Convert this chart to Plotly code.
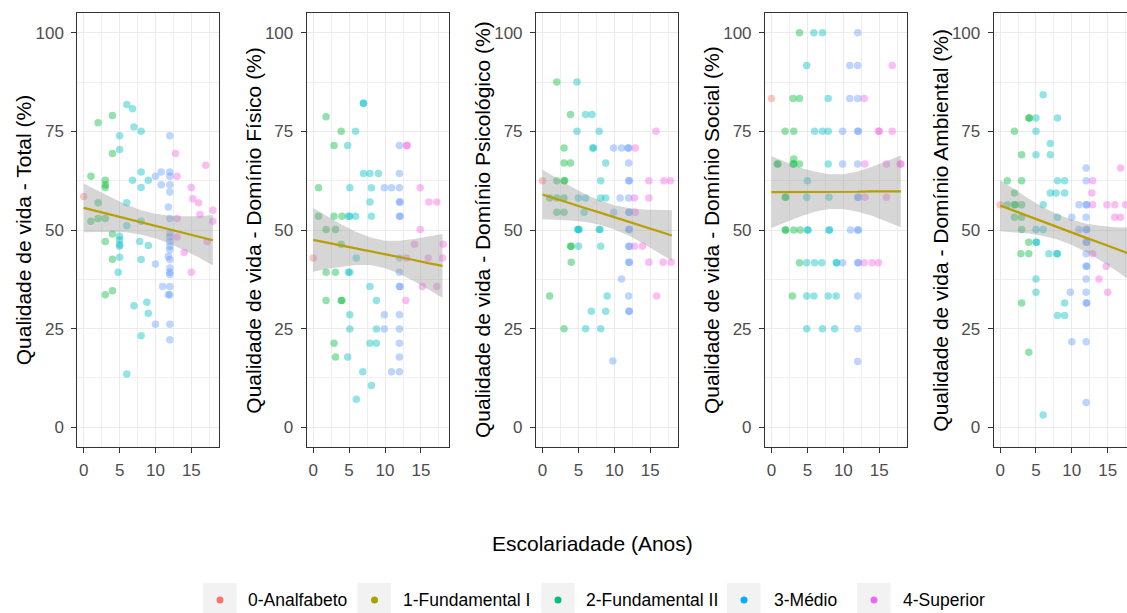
import plotly.graph_objects as go

W, H = 1127, 613
FONT = "Arial, Liberation Sans, sans-serif"

# ---------------- data ----------------
total_x = [0, 1, 1, 2, 2, 2, 3, 3, 3, 3, 3, 3, 4, 4, 4, 4, 4,
           5, 5, 5, 5, 5, 5, 5, 4.8, 6, 6, 6, 6, 6.8, 7, 6.8, 7,
           8, 8, 8, 8, 7.8, 8, 8, 9, 9, 8.8, 9, 10, 10, 10, 10.8, 10.8, 11,
           12, 12, 12, 12, 12, 11.8, 12, 12, 12, 12, 12, 12, 11.8, 12, 12, 12, 12, 12, 12, 11.8, 12, 12,
           12.8, 13, 13, 13, 14, 15, 15.2, 15, 16, 16.2, 17, 17.2, 18, 18]
total_y = [58.5, 63.6, 52.2, 77.2, 56.9, 52.9, 62.6, 61.5, 60.8, 52.9, 47.1, 33.6, 79.0, 69.4, 49.0, 42.6, 34.6,
           73.9, 70.4, 48.4, 47.5, 46.3, 45.9, 43.1, 39.3, 81.8, 56.9, 51.1, 13.5, 80.7, 76.1, 62.6, 30.8,
           75.0, 64.7, 60.8, 52.2, 47.1, 42.5, 23.2, 62.6, 46.1, 31.7, 28.9, 63.6, 41.4, 26.1, 64.7, 61.5, 35.7,
           73.9, 64.7, 63.6, 61.5, 59.6, 55.8, 52.9, 49.2, 48.2, 47.1, 45.9, 45.0, 43.3, 42.5, 40.4, 39.3, 38.7, 35.7, 33.6, 33.6, 26.1, 22.2,
           69.4, 63.6, 52.9, 48.2, 44.3, 60.8, 57.9, 39.3, 56.9, 53.9, 66.4, 47.1, 55.0, 52.2]

fisico_x = [0, 0.75, 0.75, 1.8, 1.8, 1.8, 1.8, 2.9, 2.9, 3.1, 3.1, 2.9, 3.1,
            3.9, 4, 3.9, 3.9, 4, 4.8, 5.1, 4.9, 5.1, 4.9, 5.1, 5.1, 5.1, 4.8,
            5.9, 5.9, 6, 6, 7, 7, 7, 6.9, 7.9, 8.1, 7.9, 8.1, 7.9, 7.9, 8.1,
            9.1, 8.8, 8.8, 8.8, 9.9, 9.9, 9.9, 10.9, 10.9,
            12, 12, 12, 12, 12.1, 12, 12.1, 12, 12, 12, 12.1, 12, 12, 12, 12, 12,
            13, 13.1, 13, 12.9, 14.1, 14.9, 14.9, 15.2, 16.1, 16, 17.2, 17.2, 18.1, 18]
fisico_y = [42.9, 60.7, 53.5, 78.7, 50.1, 39.3, 32.1, 71.4, 53.5, 50.1, 39.3, 21.3, 17.8,
            75.0, 53.5, 46.4, 32.1, 32.1, 71.4, 60.7, 53.5, 53.5, 39.3, 39.3, 28.5, 24.9, 17.8,
            75.0, 53.5, 42.9, 7.1, 82.1, 82.1, 64.3, 14.1, 64.3, 60.7, 57.1, 53.5, 35.7, 21.3, 10.6,
            64.3, 32.1, 24.9, 21.3, 60.7, 28.5, 24.9, 60.7, 14.1,
            71.4, 64.3, 60.7, 57.1, 57.1, 53.5, 53.5, 42.9, 39.3, 35.7, 35.7, 28.5, 24.9, 21.3, 17.8, 14.1,
            71.4, 71.4, 42.9, 32.1, 46.4, 60.7, 50.1, 35.7, 57.1, 42.9, 57.1, 35.7, 46.4, 42.9]

psico_x = [0, 1, 1, 2, 2, 2, 2, 3, 3, 3, 3.1, 3, 3, 3,
           3.9, 3.9, 3.9, 4, 4, 4.8, 4.8, 5, 5, 5.1, 4.9, 5,
           6, 6, 5.8, 6, 6.9, 7, 7.1, 6.8, 7.9, 8.1, 8.1, 7.9, 8, 8.1, 8.1,
           8.8, 8.8, 9, 8.8, 9.9, 9.9, 9.8, 11, 10.8, 11,
           12, 11.9, 12, 12, 12.1, 12, 12, 12.1, 12, 12.1, 12, 12.1, 12, 12.1, 12, 12, 12.1,
           12.9, 12.8, 12.9, 12.8, 13.9, 14.8, 14.8, 14.8, 15.8, 15.9, 16.9, 16.8, 17.8, 17.9]
psico_y = [62.5, 58.1, 33.3, 87.5, 62.5, 58.1, 54.5, 70.8, 67.0, 62.5, 62.5, 58.1, 54.5, 25.0,
           79.3, 67.0, 45.9, 45.9, 41.8, 87.5, 75.0, 58.1, 50.1, 50.1, 50.1, 45.9,
           79.3, 58.1, 54.5, 25.0, 79.3, 70.8, 70.8, 29.4, 75.0, 62.5, 58.1, 50.1, 50.1, 45.9, 25.0,
           67.0, 58.1, 33.3, 29.4, 70.8, 54.5, 16.8, 70.8, 58.1, 37.6,
           70.8, 70.8, 67.0, 62.5, 62.5, 58.1, 54.5, 54.5, 50.1, 50.1, 45.9, 45.9, 41.8, 41.8, 33.3, 29.4, 29.4,
           70.8, 58.1, 54.5, 45.9, 45.9, 62.5, 58.1, 41.8, 75.0, 33.3, 62.5, 41.8, 62.5, 41.8]

social_x = [0, 0.8, 0.9, 1.9, 1.9, 2, 1.9, 2,
            2.9, 3, 3.1, 3.1, 3, 3.1, 3.1, 3.9, 3.9, 3.9, 4, 3.9,
            4.9, 5, 4.9, 5, 5.1, 4.9, 4.9, 4.9, 5.9, 6, 6, 5.9, 7.1, 7.1, 7, 7.1,
            7.9, 7.9, 7.9, 8, 8, 8.1, 7.9, 9, 9.1, 9, 8.8, 9.9, 9.9, 9.9, 10.9, 10.9, 11,
            12, 12, 12, 12, 12.1, 12, 12, 12.1, 12, 12.1, 12, 12.1, 12, 12, 12,
            12.9, 13, 13, 12.9, 14, 14.9, 15, 14.9, 16, 16, 16.8, 16.8, 17.9, 18]
social_y = [83.3, 66.7, 66.7, 75, 58.3, 58.3, 50, 50,
            33.3, 83.3, 75, 68.0, 66.7, 66.7, 50, 100, 83.3, 66.7, 50, 41.7,
            91.7, 62.5, 58.3, 50, 50, 41.7, 33.3, 25, 100, 75, 41.7, 33.3, 100, 75, 41.7, 25,
            83.3, 75, 66.7, 58.3, 50, 50, 33.3, 41.7, 41.7, 33.3, 25, 75, 66.7, 41.7, 91.7, 83.3, 50,
            100, 91.7, 83.3, 75, 75, 66.7, 58.3, 58.3, 50, 50, 41.7, 41.7, 33.3, 25, 16.7,
            83.3, 66.7, 58.3, 41.7, 41.7, 75, 75, 41.7, 66.7, 58.3, 91.7, 75, 66.7, 66.7]

ambiental_x = [0, 1, 1, 2, 2, 2, 2.1, 2, 3, 3, 3, 3, 3, 2.9, 3,
               4, 4.1, 4, 4, 4, 5, 5, 5, 5, 5, 5.1, 5, 5, 6, 6, 6, 6, 7, 7, 7, 6.8,
               8, 8, 7.8, 8, 8, 7.9, 8, 9, 9, 9, 9, 10, 9.8, 10, 11, 11,
               12, 12, 12, 12.1, 12, 12, 12.1, 12, 12.1, 12, 12, 12.1, 12, 12, 12, 12.1, 12, 12,
               12.9, 12.8, 12.9, 12.9, 13.8, 14.8, 14.9, 15, 16, 16, 16.8, 16.8, 17.5]
ambiental_y = [56.4, 62.5, 56.4, 75, 59.4, 56.4, 56.4, 53.2, 69.1, 62.5, 56.4, 53.2, 50.1, 44.0, 31.5,
               78.4, 78.4, 46.9, 44.0, 19.0, 78.4, 75, 69.1, 50.1, 46.9, 46.9, 37.6, 34.2, 84.3, 56.4, 50.1, 3.1,
               71.9, 69.1, 59.4, 44.0, 78.4, 62.5, 59.4, 53.2, 44.0, 44.0, 28.3, 62.5, 59.4, 31.5, 28.3,
               53.2, 34.2, 21.7, 56.4, 50.1,
               65.7, 62.5, 56.4, 56.4, 53.2, 50.1, 50.1, 46.9, 46.9, 44.0, 40.8, 40.8, 37.6, 34.2, 31.5, 31.5, 21.7, 6.3,
               62.5, 59.4, 56.4, 44.0, 37.6, 40.8, 56.4, 34.2, 56.4, 53.2, 53.2, 65.7, 56.4]

# fitted line (lm) and 95% band
fit_x = [0, 2, 4, 6, 8, 10, 12, 14, 16, 18]
total_fit = [55.6, 54.7, 53.8, 52.9, 51.9, 51.0, 50.1, 49.2, 48.3, 47.4]
total_hi = [61.8, 59.9, 58.1, 56.4, 55.0, 54.1, 53.6, 53.5, 53.5, 53.8]
total_lo = [49.4, 49.5, 49.5, 49.4, 48.8, 47.9, 46.6, 44.9, 43.1, 41.0]
fisico_fit = [47.5, 46.8, 46.0, 45.3, 44.6, 43.8, 43.1, 42.4, 41.6, 40.9]
fisico_hi = [55.6, 53.5, 51.3, 49.5, 48.1, 47.3, 47.3, 47.7, 48.3, 49.0]
fisico_lo = [39.4, 40.2, 40.7, 41.1, 41.1, 40.3, 38.9, 37.1, 35.0, 32.8]
psico_fit = [59.0, 57.8, 56.7, 55.5, 54.4, 53.2, 52.1, 50.9, 49.8, 48.6]
psico_hi = [65.3, 63.1, 61.0, 59.0, 57.5, 56.3, 55.6, 55.2, 55.1, 55.0]
psico_lo = [52.7, 52.5, 52.4, 52.0, 51.3, 50.1, 48.6, 46.6, 44.5, 42.2]
social_fit = [59.6, 59.6, 59.6, 59.7, 59.7, 59.7, 59.7, 59.8, 59.8, 59.8]
social_hi = [68.7, 67.2, 65.8, 64.8, 64.1, 64.1, 64.8, 66.0, 67.4, 68.9]
social_lo = [50.5, 52.0, 53.4, 54.6, 55.3, 55.3, 54.6, 53.6, 52.2, 50.7]
ambiental_fit = [56.2, 54.8, 53.5, 52.1, 50.8, 49.4, 48.0, 46.7, 45.3, 44.0]
ambiental_hi = [62.7, 60.2, 57.9, 55.7, 54.0, 52.6, 51.6, 51.1, 50.7, 50.6]
ambiental_lo = [49.7, 49.4, 49.1, 48.5, 47.6, 46.2, 44.4, 42.3, 39.9, 37.4]

panel_titles = ["Qualidade de vida - Total (%)",
                "Qualidade de vida - Domínio Físico (%)",
                "Qualidade de vida - Domínio Psicológico (%)",
                "Qualidade de vida - Domínio Social (%)",
                "Qualidade de vida - Domínio Ambiental (%)"]
legend_labels = ["0-Analfabeto", "1-Fundamental I", "2-Fundamental II", "3-Médio", "4-Superior"]
legend_colors = ["#F8766D", "#A3A500", "#00BF7D", "#00B0F6", "#E76BF3"]
x_ticks = [0, 5, 10, 15]
y_ticks = [0, 25, 50, 75, 100]
x_title = "Escolariadade (Anos)"

# ---------------- styling ----------------
def point_color(x):
    r = round(x)
    if r == 0:
        c = (248, 118, 109)
    elif r <= 4:
        c = (0, 186, 56)
    elif r <= 9:
        c = (0, 191, 196)
    elif r <= 12:
        c = (97, 156, 255)
    else:
        c = (245, 100, 227)
    return "rgba(%d,%d,%d,0.42)" % c

panels = [
    (total_x, total_y, total_fit, total_hi, total_lo),
    (fisico_x, fisico_y, fisico_fit, fisico_hi, fisico_lo),
    (psico_x, psico_y, psico_fit, psico_hi, psico_lo),
    (social_x, social_y, social_fit, social_hi, social_lo),
    (ambiental_x, ambiental_y, ambiental_fit, ambiental_hi, ambiental_lo),
]

panel_px = [(77.3, 219.3), (306.7, 449.0), (536.0, 678.3), (765.0, 907.3), (993.7, 1127.0)]
x_ranges = [[-0.9, 18.9]] * 4 + [[-0.9, 17.7]]
top_px, bot_px = 13.0, 447.0

fig = go.Figure()
layout = dict(
    width=W, height=H, margin=dict(l=0, r=0, t=0, b=0),
    paper_bgcolor="white", plot_bgcolor="white", showlegend=False,
    font=dict(family=FONT, color="#000000"),
)

annotations = []
shapes = []
for i, (px, py, pf, phi, plo) in enumerate(panels):
    n = i + 1
    xa = "x" if n == 1 else "x%d" % n
    ya = "y" if n == 1 else "y%d" % n
    fig.add_trace(go.Scatter(
        x=px, y=py, mode="markers", xaxis=xa, yaxis=ya,
        marker=dict(size=7.5, color=[point_color(v) for v in px], line=dict(width=0)),
        hoverinfo="x+y"))
    fig.add_trace(go.Scatter(
        x=fit_x + fit_x[::-1], y=phi + plo[::-1], mode="lines", fill="toself",
        fillcolor="rgba(153,153,153,0.4)", line=dict(width=0), xaxis=xa, yaxis=ya,
        hoverinfo="skip"))
    fig.add_trace(go.Scatter(
        x=fit_x, y=pf, mode="lines", line=dict(color="#B79F00", width=2.2),
        xaxis=xa, yaxis=ya, hoverinfo="skip"))

    l, r = panel_px[i]
    common = dict(
        showline=True, linecolor="#333333", linewidth=1.1,
        ticks="outside", ticklen=5, tickwidth=1.1, tickcolor="#333333",
        tickfont=dict(size=17, color="#4D4D4D", family=FONT),
        showgrid=True, gridcolor="#EBEBEB", gridwidth=1.1, zeroline=False,
    )
    layout["xaxis" if n == 1 else "xaxis%d" % n] = dict(
        common, domain=[l / W, min(r / W, 1.0)], range=x_ranges[i], anchor=ya,
        tickvals=x_ticks, mirror=True, ticklabelstandoff=3,
        minor=dict(dtick=2.5, tick0=0, showgrid=True, gridcolor="#EFEFEF", gridwidth=0.6))
    layout["yaxis" if n == 1 else "yaxis%d" % n] = dict(
        common, domain=[1 - bot_px / H, 1 - top_px / H], range=[-5, 105], anchor=xa,
        tickvals=y_ticks, mirror=(n != 5), ticklabelstandoff=4,
        minor=dict(dtick=12.5, tick0=0, showgrid=True, gridcolor="#EFEFEF", gridwidth=0.6))
    annotations.append(dict(
        text=panel_titles[i], xref="paper", yref="paper",
        x=(l - 53) / W, y=1 - (top_px + bot_px) / 2 / H, textangle=-90,
        xanchor="center", yanchor="middle", showarrow=False,
        font=dict(size=21, color="#000000", family=FONT)))

annotations.append(dict(
    text=x_title, xref="paper", yref="paper", x=592 / W, y=1 - 543 / H,
    xanchor="center", yanchor="middle", showarrow=False,
    font=dict(size=21, color="#000000", family=FONT)))

# legend (ggplot style keys)
box_left = [203, 357.5, 541, 727, 857]
text_left = [246, 401, 584, 772, 901]
for bl, tl, lab, col in zip(box_left, text_left, legend_labels, legend_colors):
    shapes.append(dict(type="rect", xref="paper", yref="paper",
                       x0=bl / W, x1=(bl + 33.5) / W, y0=0, y1=1 - 583 / H,
                       fillcolor="#F2F2F2", line=dict(width=0), layer="below"))
    cx, cy = bl + 17, 600
    shapes.append(dict(type="circle", xref="paper", yref="paper",
                       x0=(cx - 3.5) / W, x1=(cx + 3.5) / W,
                       y0=1 - (cy + 3.5) / H, y1=1 - (cy - 3.5) / H,
                       fillcolor=col, line=dict(width=0)))
    annotations.append(dict(
        text=lab, xref="paper", yref="paper", x=tl / W, y=1 - 600 / H,
        xanchor="left", yanchor="middle", showarrow=False,
        font=dict(size=17.5, color="#000000", family=FONT)))

layout["annotations"] = annotations
layout["shapes"] = shapes
fig.update_layout(**layout)
fig.write_html("out.html")
